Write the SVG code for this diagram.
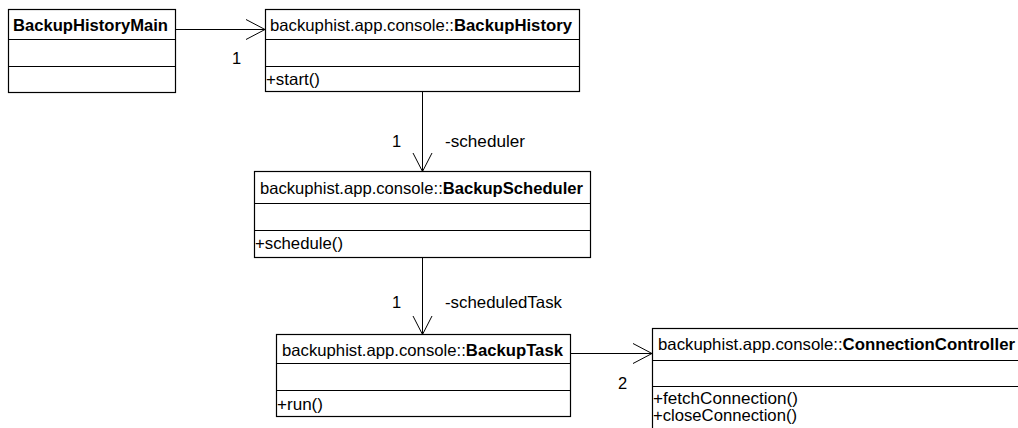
<svg xmlns="http://www.w3.org/2000/svg" width="1018" height="428" viewBox="0 0 1018 428">
  <style>
    .box { fill: #ffffff; stroke: #000000; stroke-width: 1.2; }
    .div { stroke: #000000; stroke-width: 1.2; }
    .edge { fill: none; stroke: #000000; stroke-width: 1; }
    text { font-family: "Liberation Sans", Arial, sans-serif; font-size: 16.5px; fill: #000000; }
    .b { font-weight: bold; }
  </style>
  <rect width="1018" height="428" fill="#ffffff"/>

  <!-- associations -->
  <g id="connectors">
    <line class="edge" x1="175" y1="29.5" x2="265" y2="29.5"/>
    <polyline class="edge" points="246,19.5 265,29.5 246,39.5"/>
    <text x="232" y="64">1</text>

    <line class="edge" x1="422.5" y1="92" x2="422.5" y2="171.5"/>
    <polyline class="edge" points="413,153 422.5,171.5 432,153"/>
    <text x="392" y="147">1</text>
    <text x="445" y="147" textLength="80" lengthAdjust="spacingAndGlyphs">-scheduler</text>

    <line class="edge" x1="422.5" y1="258" x2="422.5" y2="334.5"/>
    <polyline class="edge" points="413,316 422.5,334.5 432,316"/>
    <text x="392" y="308">1</text>
    <text x="445" y="308" textLength="117" lengthAdjust="spacingAndGlyphs">-scheduledTask</text>

    <line class="edge" x1="570" y1="353.5" x2="652" y2="353.5"/>
    <polyline class="edge" points="633,343.5 652,353.5 633,363.5"/>
    <text x="618" y="389">2</text>
  </g>

  <g id="BackupHistoryMain">
    <rect class="box" x="8.5" y="9.5" width="167" height="83"/>
    <line class="div" x1="8.5" y1="39.5" x2="175.5" y2="39.5"/>
    <line class="div" x1="8.5" y1="66.5" x2="175.5" y2="66.5"/>
    <text class="b" x="13" y="31" textLength="155" lengthAdjust="spacingAndGlyphs">BackupHistoryMain</text>
  </g>

  <g id="BackupHistory">
    <rect class="box" x="265.5" y="9.5" width="314" height="82"/>
    <line class="div" x1="265.5" y1="39.5" x2="579.5" y2="39.5"/>
    <line class="div" x1="265.5" y1="66.5" x2="579.5" y2="66.5"/>
    <text x="270" y="31" textLength="302" lengthAdjust="spacingAndGlyphs">backuphist.app.console::<tspan class="b">BackupHistory</tspan></text>
    <text x="266" y="84.5" textLength="54" lengthAdjust="spacingAndGlyphs">+start()</text>
  </g>

  <g id="BackupScheduler">
    <rect class="box" x="254.5" y="171.5" width="336" height="86"/>
    <line class="div" x1="254.5" y1="203.5" x2="590.5" y2="203.5"/>
    <line class="div" x1="254.5" y1="230.5" x2="590.5" y2="230.5"/>
    <text x="260" y="193.5" textLength="323" lengthAdjust="spacingAndGlyphs">backuphist.app.console::<tspan class="b">BackupScheduler</tspan></text>
    <text x="255" y="249" textLength="88" lengthAdjust="spacingAndGlyphs">+schedule()</text>
  </g>

  <g id="BackupTask">
    <rect class="box" x="276.5" y="334.5" width="294" height="82"/>
    <line class="div" x1="276.5" y1="363.5" x2="570.5" y2="363.5"/>
    <line class="div" x1="276.5" y1="390.5" x2="570.5" y2="390.5"/>
    <text x="282" y="356" textLength="281" lengthAdjust="spacingAndGlyphs">backuphist.app.console::<tspan class="b">BackupTask</tspan></text>
    <text x="277" y="410" textLength="46" lengthAdjust="spacingAndGlyphs">+run()</text>
  </g>

  <g id="ConnectionController">
    <rect class="box" x="652.5" y="328.5" width="400" height="120"/>
    <line class="div" x1="652.5" y1="360.5" x2="1052.5" y2="360.5"/>
    <line class="div" x1="652.5" y1="386.5" x2="1052.5" y2="386.5"/>
    <text x="658" y="350" textLength="357" lengthAdjust="spacingAndGlyphs">backuphist.app.console::<tspan class="b">ConnectionController</tspan></text>
    <text x="653" y="404" textLength="145" lengthAdjust="spacingAndGlyphs">+fetchConnection()</text>
    <text x="653" y="421" textLength="144" lengthAdjust="spacingAndGlyphs">+closeConnection()</text>
  </g>
</svg>
